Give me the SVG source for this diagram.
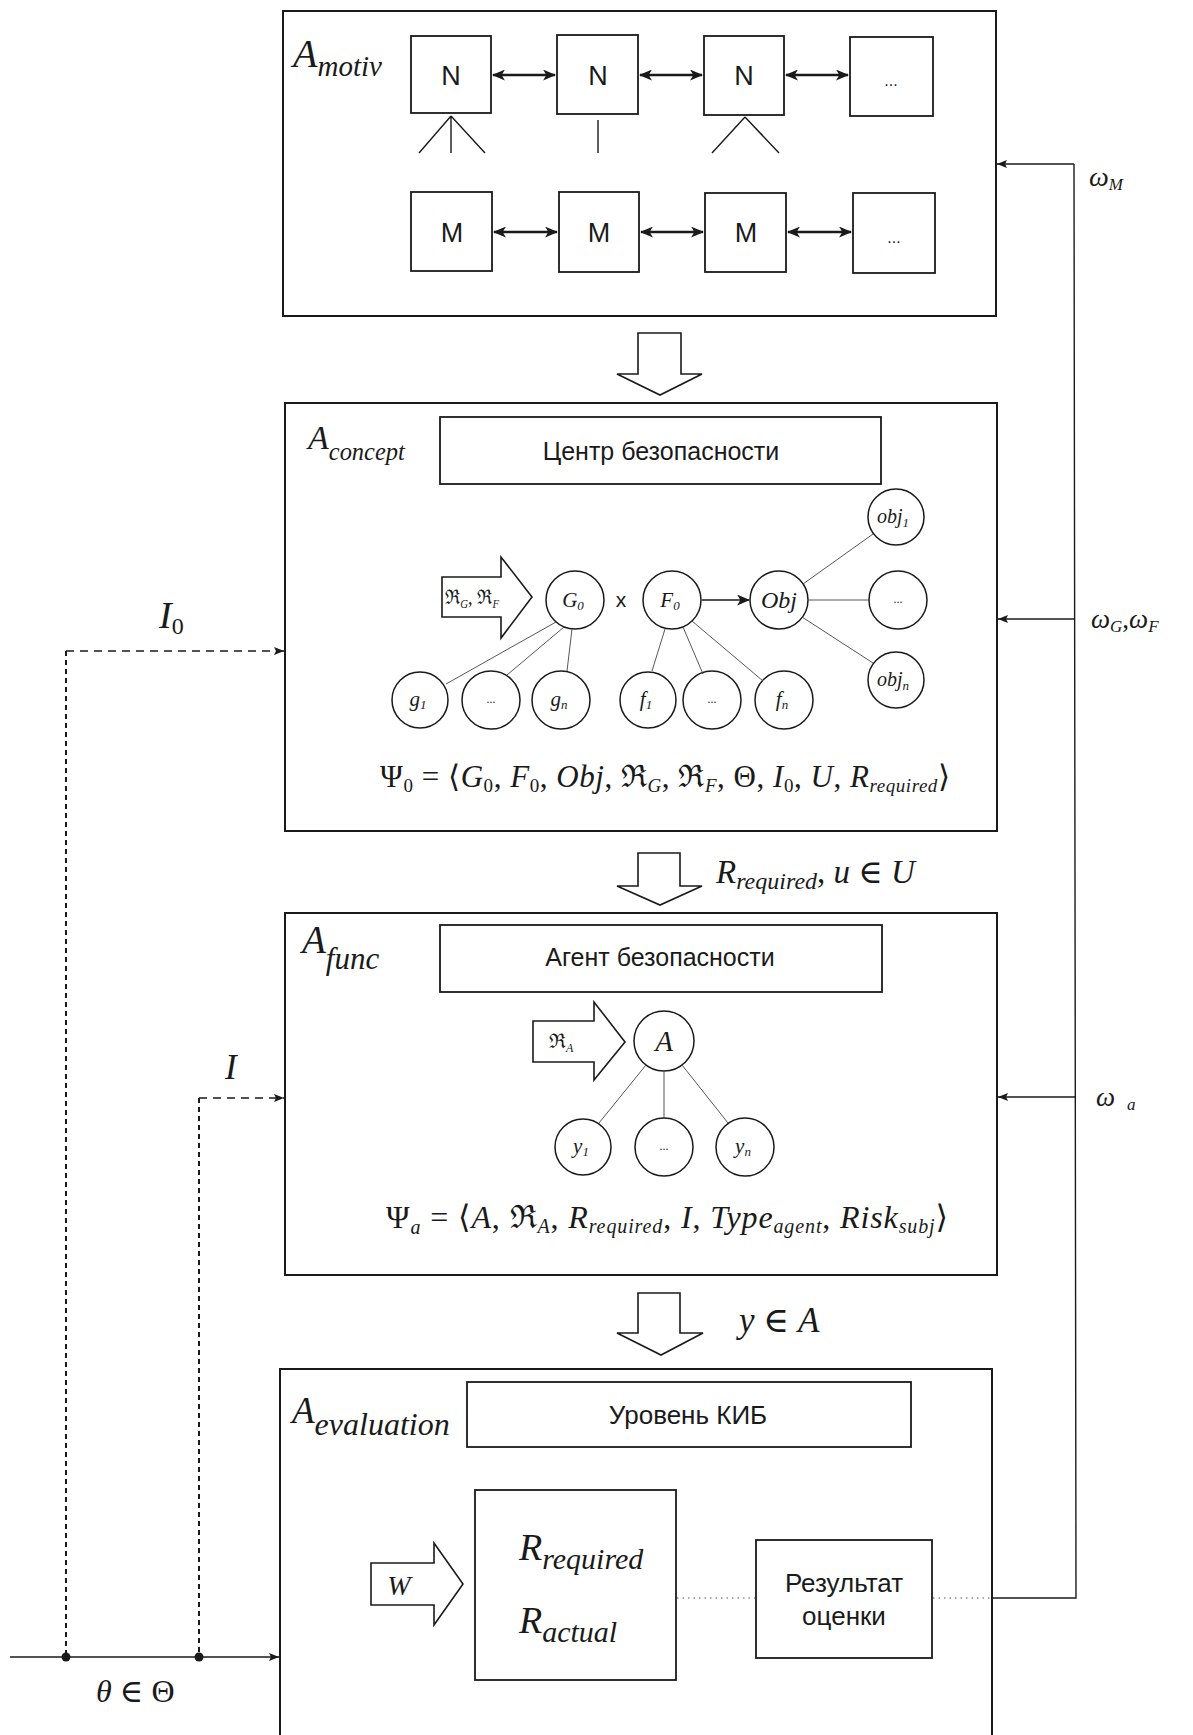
<svg xmlns="http://www.w3.org/2000/svg" width="1193" height="1735" viewBox="0 0 1193 1735">
<style>
.box{fill:none;stroke:#1a1a1a;stroke-width:2}
.ibox{fill:#fff;stroke:#1a1a1a;stroke-width:1.8}
.circ{fill:#fff;stroke:#1a1a1a;stroke-width:1.5}
.thin{fill:none;stroke:#444;stroke-width:0.9}
.big{fill:#fff;stroke:#1a1a1a;stroke-width:1.6;stroke-linejoin:miter}
.dbl{fill:none;stroke:#1a1a1a;stroke-width:2.6}
.fb{fill:none;stroke:#1a1a1a;stroke-width:1.4}
.dash{fill:none;stroke:#1a1a1a;stroke-width:1.4;stroke-dasharray:8 6}
.vdash{fill:none;stroke:#1a1a1a;stroke-width:2;stroke-dasharray:5 4}
.dot{fill:none;stroke:#555;stroke-width:1.2;stroke-dasharray:1.5 4}
.sans{font-family:"Liberation Sans",Arial,sans-serif;fill:#1a1a1a}
.m{font-family:"Liberation Serif","DejaVu Serif",serif;font-style:italic;fill:#1a1a1a}
.r{font-family:"Liberation Serif","DejaVu Serif",serif;font-style:normal;fill:#1a1a1a}
</style>
<defs>
<marker id="ah" viewBox="0 0 12 10" refX="11" refY="5" markerWidth="13" markerHeight="11" markerUnits="userSpaceOnUse" orient="auto-start-reverse">
<path d="M0,0 L12,5 L0,10 L3,5 Z" fill="#1a1a1a"/>
</marker>
<marker id="sa" viewBox="0 0 10 8" refX="10" refY="4" markerWidth="10" markerHeight="8" markerUnits="userSpaceOnUse" orient="auto">
<path d="M0,0 L10,4 L0,8 L2,4 Z" fill="#1a1a1a"/>
</marker>
</defs>

<!-- Block 1: A_motiv -->
<g id="block-motiv">
<rect class="box" x="283" y="11" width="713" height="305"/>
<text class="m" x="293" y="67" font-size="40">A<tspan font-size="29" dy="9">motiv</tspan></text>
<g id="n1"><rect class="ibox" x="411" y="36" width="80" height="77"/><text class="sans" x="451" y="85" font-size="27" text-anchor="middle">N</text></g>
<g id="n2"><rect class="ibox" x="557" y="35" width="81" height="79"/><text class="sans" x="598" y="85" font-size="27" text-anchor="middle">N</text></g>
<g id="n3"><rect class="ibox" x="704" y="36" width="80" height="79"/><text class="sans" x="744" y="85" font-size="27" text-anchor="middle">N</text></g>
<g id="n4"><rect class="ibox" x="850" y="37" width="83" height="79"/><text class="sans" x="891" y="86" font-size="16" text-anchor="middle">...</text></g>
<g id="m1"><rect class="ibox" x="411" y="192" width="81" height="79"/><text class="sans" x="452" y="242" font-size="27" text-anchor="middle">M</text></g>
<g id="m2"><rect class="ibox" x="559" y="192" width="80" height="80"/><text class="sans" x="599" y="242" font-size="27" text-anchor="middle">M</text></g>
<g id="m3"><rect class="ibox" x="705" y="193" width="81" height="79"/><text class="sans" x="746" y="242" font-size="27" text-anchor="middle">M</text></g>
<g id="m4"><rect class="ibox" x="853" y="193" width="82" height="80"/><text class="sans" x="894" y="243" font-size="16" text-anchor="middle">...</text></g>
<path class="fb" d="M451,116 L419,153 M451,116 L451,153 M451,116 L485,153 M598,120 L598,153 M745,117 L712,153 M745,117 L779,153" stroke-width="1.6"/>
</g>

<!-- Block 2: A_concept -->
<g id="block-concept">
<rect class="box" x="285" y="403" width="712" height="428"/>
<text class="m" x="308" y="449" font-size="34">A<tspan font-size="25" dy="11" textLength="76" lengthAdjust="spacingAndGlyphs">concept</tspan></text>
<g id="center"><rect class="ibox" x="440" y="417" width="441" height="67"/><text class="sans" x="661" y="460" font-size="25" text-anchor="middle">Центр безопасности</text></g>
<g id="arrow-rg"><path class="big" d="M442,577 L501,577 L501,557 L532,597 L501,638 L501,617 L442,617 Z"/><text class="r" x="445" y="604" font-size="20" textLength="54" lengthAdjust="spacingAndGlyphs">ℜ<tspan class="m" font-size="12" dy="4">G</tspan><tspan dy="-4">, ℜ</tspan><tspan class="m" font-size="12" dy="4">F</tspan></text></g>
<g id="g0"><circle class="circ" cx="575" cy="600" r="29"/><text class="m" x="573" y="607" font-size="21" text-anchor="middle">G<tspan font-size="13" dy="3">0</tspan></text></g>
<text class="sans" x="621" y="607" font-size="21" text-anchor="middle">x</text>
<g id="f0"><circle class="circ" cx="672" cy="600" r="29"/><text class="m" x="670" y="607" font-size="21" text-anchor="middle">F<tspan font-size="13" dy="3">0</tspan></text></g>
<g id="obj"><circle class="circ" cx="779" cy="600" r="29"/><text class="m" x="779" y="608" font-size="24" text-anchor="middle">Obj</text></g>
<g id="obj1"><circle class="circ" cx="896" cy="517" r="28"/><text class="m" x="893" y="523" font-size="20" text-anchor="middle">obj<tspan font-size="13" dy="4">1</tspan></text></g>
<g id="objd"><circle class="circ" cx="898" cy="600" r="29"/><text class="r" x="898" y="603" font-size="12" text-anchor="middle">...</text></g>
<g id="objn"><circle class="circ" cx="896" cy="680" r="28"/><text class="m" x="893" y="686" font-size="20" text-anchor="middle">obj<tspan font-size="13" dy="4">n</tspan></text></g>
<g id="g1"><circle class="circ" cx="420" cy="700" r="28"/><text class="m" x="418" y="706" font-size="21" text-anchor="middle">g<tspan font-size="13" dy="3">1</tspan></text></g>
<g id="gd"><circle class="circ" cx="491" cy="700" r="29"/><text class="r" x="491" y="703" font-size="12" text-anchor="middle">...</text></g>
<g id="gn"><circle class="circ" cx="561" cy="700" r="29"/><text class="m" x="559" y="706" font-size="21" text-anchor="middle">g<tspan font-size="13" dy="3">n</tspan></text></g>
<g id="f1"><circle class="circ" cx="648" cy="700" r="28"/><text class="m" x="646" y="706" font-size="21" text-anchor="middle">f<tspan font-size="13" dy="3">1</tspan></text></g>
<g id="fd"><circle class="circ" cx="712" cy="700" r="29"/><text class="r" x="712" y="703" font-size="12" text-anchor="middle">...</text></g>
<g id="fn"><circle class="circ" cx="784" cy="700" r="29"/><text class="m" x="782" y="706" font-size="21" text-anchor="middle">f<tspan font-size="13" dy="3">n</tspan></text></g>
<text class="r" x="380" y="787" font-size="31" textLength="570" lengthAdjust="spacing">Ψ<tspan font-size="19" dy="5">0</tspan><tspan dy="-5"> = ⟨</tspan><tspan class="m">G</tspan><tspan font-size="19" dy="5">0</tspan><tspan dy="-5">, </tspan><tspan class="m">F</tspan><tspan font-size="19" dy="5">0</tspan><tspan dy="-5">, </tspan><tspan class="m">Obj</tspan><tspan>, ℜ</tspan><tspan class="m" font-size="19" dy="5">G</tspan><tspan dy="-5">, ℜ</tspan><tspan class="m" font-size="19" dy="5">F</tspan><tspan dy="-5">, Θ, </tspan><tspan class="m">I</tspan><tspan font-size="19" dy="5">0</tspan><tspan dy="-5">, </tspan><tspan class="m">U</tspan><tspan>, </tspan><tspan class="m">R</tspan><tspan class="m" font-size="19" dy="5">required</tspan><tspan dy="-5">⟩</tspan></text>
</g>

<!-- Block 3: A_func -->
<g id="block-func">
<rect class="box" x="285" y="913" width="712" height="362"/>
<text class="m" x="302" y="953" font-size="39">A<tspan font-size="31" dy="16">func</tspan></text>
<g id="agent"><rect class="ibox" x="440" y="925" width="442" height="67"/><text class="sans" x="660" y="966" font-size="25" text-anchor="middle">Агент безопасности</text></g>
<g id="arrow-ra"><path class="big" d="M533,1021 L594,1021 L594,1002 L625,1042 L594,1080 L594,1062 L533,1062 Z"/><text class="r" x="549" y="1048" font-size="20">ℜ<tspan class="m" font-size="12" dy="4">A</tspan></text></g>
<g id="a"><circle class="circ" cx="664" cy="1041" r="30"/><text class="m" x="664" y="1051" font-size="29" text-anchor="middle">A</text></g>
<g id="y1"><circle class="circ" cx="583" cy="1147" r="28"/><text class="m" x="581" y="1153" font-size="21" text-anchor="middle">y<tspan font-size="13" dy="3">1</tspan></text></g>
<g id="yd"><circle class="circ" cx="664" cy="1147" r="29"/><text class="r" x="664" y="1150" font-size="12" text-anchor="middle">...</text></g>
<g id="yn"><circle class="circ" cx="745" cy="1147" r="29"/><text class="m" x="743" y="1153" font-size="21" text-anchor="middle">y<tspan font-size="13" dy="3">n</tspan></text></g>
<text class="r" x="386" y="1228" font-size="32" textLength="562" lengthAdjust="spacing">Ψ<tspan class="m" font-size="20" dy="6">a</tspan><tspan dy="-6"> = ⟨</tspan><tspan class="m">A</tspan><tspan>, ℜ</tspan><tspan class="m" font-size="20" dy="5">A</tspan><tspan dy="-5">, </tspan><tspan class="m">R</tspan><tspan class="m" font-size="20" dy="5">required</tspan><tspan dy="-5">, </tspan><tspan class="m">I</tspan><tspan>, </tspan><tspan class="m">Type</tspan><tspan class="m" font-size="20" dy="5">agent</tspan><tspan dy="-5">, </tspan><tspan class="m">Risk</tspan><tspan class="m" font-size="20" dy="5">subj</tspan><tspan dy="-5">⟩</tspan></text>
</g>

<!-- Block 4: A_evaluation -->
<g id="block-eval">
<rect class="box" x="280" y="1369" width="712" height="380"/>
<text class="m" x="292" y="1423" font-size="37">A<tspan font-size="32" dy="12">evaluation</tspan></text>
<g id="level"><rect class="ibox" x="467" y="1382" width="444" height="65"/><text class="sans" x="688" y="1424" font-size="26" text-anchor="middle">Уровень КИБ</text></g>
<g id="arrow-w"><path class="big" d="M371,1563 L434,1563 L434,1543 L463,1584 L434,1625 L434,1605 L371,1605 Z"/><text class="m" x="399" y="1595" font-size="28" text-anchor="middle">W</text></g>
<g id="rbox"><rect class="ibox" x="475" y="1490" width="201" height="190"/><text class="m" x="519" y="1560" font-size="38">R<tspan font-size="30" dy="9">required</tspan></text><text class="m" x="519" y="1633" font-size="38">R<tspan font-size="30" dy="9">actual</tspan></text></g>
<g id="result"><rect class="ibox" x="756" y="1540" width="176" height="118"/><text class="sans" x="844" y="1592" font-size="26" text-anchor="middle">Результат</text><text class="sans" x="844" y="1625" font-size="26" text-anchor="middle">оценки</text></g>
</g>

<!-- transition arrows -->
<g id="transitions">
<path class="big" d="M638,333 L681,333 L681,374 L702,374 L660,395 L617,374 L638,374 Z"/>
<path class="big" d="M638,853 L680,853 L680,886 L702,886 L660,905 L617,886 L638,886 Z"/>
<path class="big" d="M638,1293 L680,1293 L680,1333 L703,1333 L661,1355 L617,1333 L638,1333 Z"/>
<text class="m" x="716" y="883" font-size="33">R<tspan font-size="24" dy="6">required</tspan><tspan class="r" dy="-6">, </tspan><tspan>u</tspan><tspan class="r"> ∈ </tspan><tspan>U</tspan></text>
<text class="m" x="739" y="1332" font-size="35">y<tspan class="r"> ∈ </tspan><tspan>A</tspan></text>
</g>

<!-- connectors -->
<g id="connectors">
<line class="dbl" x1="493" y1="75" x2="555" y2="75" marker-start="url(#ah)" marker-end="url(#ah)"/>
<line class="dbl" x1="640" y1="75" x2="702" y2="75" marker-start="url(#ah)" marker-end="url(#ah)"/>
<line class="dbl" x1="786" y1="75" x2="848" y2="75" marker-start="url(#ah)" marker-end="url(#ah)"/>
<line class="dbl" x1="494" y1="232" x2="557" y2="232" marker-start="url(#ah)" marker-end="url(#ah)"/>
<line class="dbl" x1="641" y1="232" x2="703" y2="232" marker-start="url(#ah)" marker-end="url(#ah)"/>
<line class="dbl" x1="788" y1="232" x2="851" y2="232" marker-start="url(#ah)" marker-end="url(#ah)"/>
<path class="thin" d="M556,622 L446,684 M564,627 L507,675 M572,629 L567,671 M665,629 L652,671 M683,627 L703,674 M692,621 L763,681 M803,584 L873,534 M808,600 L869,600 M802,617 L873,663 M646,1065 L599,1123 M664,1071 L664,1119 M682,1065 L728,1123"/>
<line class="fb" x1="702" y1="600" x2="749" y2="600" stroke-width="1.8" marker-end="url(#ah)"/>
<!-- feedback -->
<path class="fb" d="M1074,164 L1076,1598 L992,1598"/>
<line class="fb" x1="1074" y1="164" x2="997" y2="164" marker-end="url(#sa)"/>
<line class="fb" x1="1075" y1="619" x2="998" y2="619" marker-end="url(#sa)"/>
<line class="fb" x1="1075" y1="1097" x2="998" y2="1097" marker-end="url(#sa)"/>
<line class="dot" x1="677" y1="1598" x2="755" y2="1598"/>
<line class="dot" x1="933" y1="1598" x2="991" y2="1598"/>
<!-- left inputs -->
<path class="vdash" d="M66,651 L66,1657 M199,1098 L199,1657"/>
<line class="dash" x1="66" y1="651" x2="284" y2="651" marker-end="url(#sa)"/>
<line class="dash" x1="199" y1="1098" x2="284" y2="1098" marker-end="url(#sa)"/>
<line class="fb" x1="10" y1="1657" x2="279" y2="1657" stroke-width="1.1" marker-end="url(#sa)"/>
<circle cx="66" cy="1657" r="4.5" fill="#1a1a1a"/>
<circle cx="199" cy="1657" r="4.5" fill="#1a1a1a"/>
</g>

<!-- labels -->
<g id="labels">
<text class="m" x="1089" y="186" font-size="28">ω<tspan font-size="17" dy="4">M</tspan></text>
<text class="m" x="1091" y="628" font-size="27">ω<tspan font-size="17" dy="4">G</tspan><tspan class="r" dy="-4">,</tspan><tspan>ω</tspan><tspan font-size="17" dy="4">F</tspan></text>
<text class="m" x="1096" y="1106" font-size="27">ω<tspan font-size="17" dx="12" dy="4">a</tspan></text>
<text class="m" x="159" y="628" font-size="38">I<tspan class="r" font-size="24" dy="6">0</tspan></text>
<text class="m" x="225" y="1079" font-size="35">I</text>
<text class="m" x="96" y="1702" font-size="32">θ<tspan class="r"> ∈ Θ</tspan></text>
</g>
</svg>
